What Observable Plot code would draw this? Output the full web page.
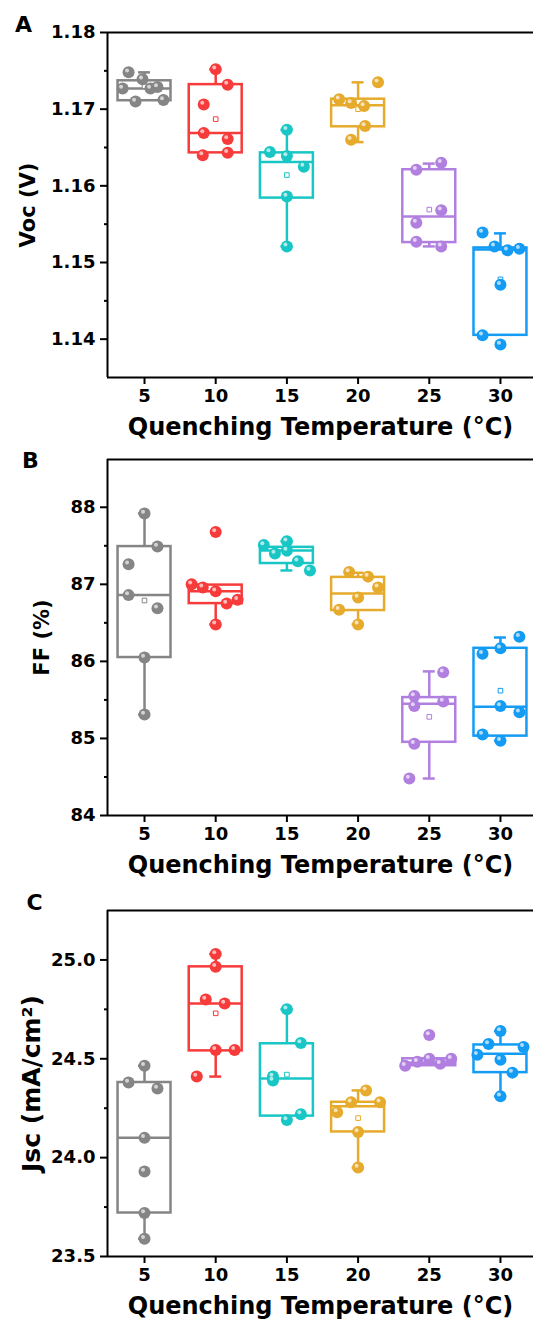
<!DOCTYPE html>
<html>
<head>
<meta charset="utf-8">
<script src="https://cdn.jsdelivr.net/npm/d3@7"></script>
<script src="https://cdn.jsdelivr.net/npm/@observablehq/plot@0.6"></script>
<style>
  html, body { margin: 0; padding: 0; background: white; }
  #chart svg { display: block; }
</style>
</head>
<body>
<div id="chart"></div>
<script>
// ---------- categories & styling keys ----------
const temps = [5, 10, 15, 20, 25, 30];
const colors = ["#858585", "#f73b3b", "#19c6c6", "#e6ab2c", "#b07fdf", "#149cf5"];
const xTitle = "Quenching Temperature (°C)";

// ---------- Panel A: Voc (V) ----------
const vocValues = [
  [1.1748, 1.1739, 1.1727, 1.1727, 1.1729, 1.1710, 1.1712],
  [1.1752, 1.1732, 1.1706, 1.1669, 1.1661, 1.1640, 1.1643],
  [1.1673, 1.1644, 1.1639, 1.1625, 1.1586, 1.1521],
  [1.1735, 1.1713, 1.1708, 1.1704, 1.1678, 1.1660],
  [1.1621, 1.1630, 1.1568, 1.1552, 1.1527, 1.1521],
  [1.1539, 1.1521, 1.1516, 1.1518, 1.1471, 1.1405, 1.1393]
];
const vocJitter = [
  [-1.12, -0.14, -1.54, 0.42, 0.91, -0.63, 1.33],
  [0, 0.84, -0.84, -0.84, 0.84, -0.91, 0.84],
  [0, -1.19, 0, 1.19, 0, 0],
  [1.40, -1.33, -0.49, 0.42, 0.49, -0.49],
  [-0.91, 0.84, 0.84, -0.91, -0.91, 0.84],
  [-1.26, -0.42, 0.49, 1.33, 0, -1.26, 0]
];
// [q1, median, q3, whiskerLow, whiskerHigh, mean]
const vocBoxes = [
  [1.1711, 1.1727, 1.1737, 1.1711, 1.1748, 1.1730],
  [1.1643, 1.1669, 1.1732, 1.1643, 1.1752, 1.1687],
  [1.1584, 1.1631, 1.1643, 1.1521, 1.1673, 1.1614],
  [1.1677, 1.1705, 1.1713, 1.1657, 1.1735, 1.1700],
  [1.1526, 1.1560, 1.1621, 1.1521, 1.1629, 1.1569],
  [1.1405, 1.1517, 1.1519, 1.1405, 1.1538, 1.1478]
];
const vocTicks = [1.14, 1.15, 1.16, 1.17, 1.18];
const vocMinor = [1.145, 1.155, 1.165, 1.175];

// ---------- Panel B: FF (%) ----------
const ffValues = [
  [87.92, 87.49, 87.26, 86.86, 86.69, 86.05, 85.31],
  [87.68, 87.00, 86.96, 86.91, 86.80, 86.75, 86.48],
  [87.51, 87.56, 87.40, 87.44, 87.30, 87.18],
  [87.16, 87.10, 86.96, 86.83, 86.67, 86.48],
  [85.86, 85.55, 85.42, 85.48, 84.93, 84.48],
  [86.32, 86.10, 86.17, 85.42, 85.34, 85.05, 84.97]
];
const ffJitter = [
  [0, 0.91, -1.12, -1.12, 0.91, 0, 0],
  [0, -1.69, -0.91, 0, 1.54, 0.77, 0],
  [-1.62, 0, -0.84, 0, 0.77, 1.62],
  [-0.63, 0.70, 1.40, 0, -1.33, 0],
  [0.98, -1.05, -1.05, 0.98, -1.05, -1.40],
  [1.33, -1.26, 0, 0, 1.33, -1.26, 0]
];
const ffBoxes = [
  [86.05, 86.86, 87.49, 85.31, 87.92, 86.79],
  [86.75, 86.91, 86.99, 86.48, 86.99, null],
  [87.27, 87.44, 87.48, 87.18, 87.56, 87.40],
  [86.66, 86.88, 87.09, 86.48, 87.15, 86.85],
  [84.95, 85.45, 85.53, 84.48, 85.87, 85.28],
  [85.03, 85.41, 86.17, 84.97, 86.31, 85.62]
];
const ffTicks = [84, 85, 86, 87, 88];
const ffMinor = [84.5, 85.5, 86.5, 87.5];

// ---------- Panel C: Jsc (mA/cm2) ----------
const jscValues = [
  [24.465, 24.38, 24.35, 24.10, 23.93, 23.72, 23.59],
  [25.03, 24.965, 24.80, 24.78, 24.545, 24.545, 24.41],
  [24.75, 24.58, 24.41, 24.39, 24.19, 24.22],
  [24.34, 24.28, 24.28, 24.23, 24.13, 23.95],
  [24.62, 24.465, 24.485, 24.50, 24.475, 24.50],
  [24.64, 24.575, 24.56, 24.52, 24.495, 24.43, 24.31]
];
const jscJitter = [
  [0, -1.12, 0.91, 0, 0, 0, 0],
  [0, 0, -0.70, 0.63, 0, 1.33, -1.33],
  [0, 0.98, -0.98, -0.98, 0, 0.98],
  [0.56, -0.49, 1.54, -1.47, 0, 0],
  [0, -1.69, -0.84, 0, 0.77, 1.54],
  [0, -0.84, 1.62, -1.62, 0, 0.84, 0]
];
const jscBoxes = [
  [23.72, 24.10, 24.38, 23.59, 24.465, null],
  [24.54, 24.78, 24.965, 24.41, 25.03, 24.73],
  [24.21, 24.40, 24.576, 24.21, 24.75, 24.42],
  [24.13, 24.26, 24.28, 23.95, 24.34, 24.20],
  [24.465, 24.48, 24.50, 24.465, 24.50, null],
  [24.43, 24.525, 24.57, 24.31, 24.64, null]
];
const jscTicks = [23.5, 24.0, 24.5, 25.0];
const jscMinor = [23.75, 24.25, 24.75];

// ---------- drawing ----------
const X_DOMAIN = [2.4, 32.32];
const BOX_HW = 1.86;   // half box width in °C units
const CAP_HW = 0.42;   // half whisker-cap width

function panel(cfg) {
  const pts = cfg.values.flatMap((arr, i) => arr.map((v, j) => ({
    x: temps[i] + cfg.jitter[i][j], y: v, c: colors[i]
  })));
  const boxes = cfg.boxes.map((s, i) => ({
    t: temps[i], q1: s[0], med: s[1], q3: s[2], lo: s[3], hi: s[4], mean: s[5], c: colors[i]
  }));
  const [y0, y1] = cfg.domain;
  const lw = 2.5;
  return Plot.plot({
    width: 533,
    height: cfg.marginTop + cfg.innerH + cfg.marginBottom,
    marginLeft: 107,
    marginRight: 0,
    marginTop: cfg.marginTop,
    marginBottom: cfg.marginBottom,
    x: { domain: X_DOMAIN },
    y: { domain: cfg.domain },
    color: { type: "identity" },
    style: { fontFamily: "DejaVu Sans", fontWeight: "bold", color: "black", background: "white", overflow: "visible" },
    marks: [
      // boxes
      Plot.rect(boxes, { x1: d => d.t - BOX_HW, x2: d => d.t + BOX_HW, y1: "q1", y2: "q3", fill: "none", stroke: "c", strokeWidth: lw }),
      Plot.ruleY(boxes, { y: "med", x1: d => d.t - BOX_HW, x2: d => d.t + BOX_HW, stroke: "c", strokeWidth: lw }),
      Plot.ruleX(boxes.filter(d => d.hi > d.q3), { x: "t", y1: "q3", y2: "hi", stroke: "c", strokeWidth: lw }),
      Plot.ruleX(boxes.filter(d => d.lo < d.q1), { x: "t", y1: "lo", y2: "q1", stroke: "c", strokeWidth: lw }),
      Plot.ruleY(boxes.filter(d => d.hi > d.q3), { y: "hi", x1: d => d.t - CAP_HW, x2: d => d.t + CAP_HW, stroke: "c", strokeWidth: lw }),
      Plot.ruleY(boxes.filter(d => d.lo < d.q1), { y: "lo", x1: d => d.t - CAP_HW, x2: d => d.t + CAP_HW, stroke: "c", strokeWidth: lw }),
      Plot.dot(boxes.filter(d => d.mean != null), { x: "t", y: "mean", symbol: "square", r: 2.6, fill: "white", stroke: "c", strokeWidth: 1 }),
      // data points (shaded spheres)
      Plot.dot(pts, { x: "x", y: "y", r: 6, fill: "c" }),
      Plot.dot(pts, { x: "x", y: "y", r: 2, fill: "white", fillOpacity: 0.65, dx: -1.5, dy: -1.8 }),
      // frame
      Plot.ruleX([X_DOMAIN[0]], { stroke: "black", strokeWidth: 2 }),
      Plot.ruleY([y0], { stroke: "black", strokeWidth: 2 }),
      Plot.ruleY([y1], { stroke: "black", strokeWidth: 2 }),
      // axes
      Plot.axisX({ ticks: temps, tickSize: 7, tickPadding: 5, fontSize: 18, fontWeight: "bold", label: null, tickFormat: d => String(d), strokeWidth: 2 }),
      Plot.axisY({ ticks: cfg.ticks, tickSize: 7, tickPadding: 5, fontSize: 18, fontWeight: "bold", label: null, tickFormat: cfg.fmt, strokeWidth: 2 }),
      Plot.axisY({ ticks: cfg.minor, tickSize: 3, tickPadding: 0, label: null, tickFormat: () => "", strokeWidth: 2 }),
      // titles
      Plot.text([xTitle], { frameAnchor: "bottom", dy: 50, fontSize: 24, fontWeight: "bold", fill: "black", textAnchor: "middle", lineAnchor: "middle" }),
      Plot.text([cfg.yLabel], { frameAnchor: "left", dx: cfg.yLabelDx, rotate: -90, fontSize: cfg.yLabelSize, fontWeight: "bold", fill: "black", textAnchor: "middle", lineAnchor: "middle" }),
      Plot.text([cfg.letter], { frameAnchor: "top-left", dx: cfg.letterDx, dy: cfg.letterDy, fontSize: 22, fontWeight: "bold", fill: "black", textAnchor: "middle", lineAnchor: "middle" })
    ]
  });
}

const chart = document.getElementById("chart");
chart.appendChild(panel({
  values: vocValues, jitter: vocJitter, boxes: vocBoxes,
  domain: [1.135, 1.18], ticks: vocTicks, minor: vocMinor, fmt: d3.format(".2f"),
  yLabel: "Voc (V)", yLabelDx: -79, yLabelSize: 21,
  letter: "A", letterDx: -84, letterDy: -8,
  marginTop: 32, innerH: 345, marginBottom: 60
}));
chart.appendChild(panel({
  values: ffValues, jitter: ffJitter, boxes: ffBoxes,
  domain: [84, 88.62], ticks: ffTicks, minor: ffMinor, fmt: d3.format("d"),
  yLabel: "FF (%)", yLabelDx: -65, yLabelSize: 21,
  letter: "B", letterDx: -77, letterDy: 1,
  marginTop: 22, innerH: 356, marginBottom: 60
}));
chart.appendChild(panel({
  values: jscValues, jitter: jscJitter, boxes: jscBoxes,
  domain: [23.5, 25.25], ticks: jscTicks, minor: jscMinor, fmt: d3.format(".1f"),
  yLabel: "Jsc (mA/cm²)", yLabelDx: -76, yLabelSize: 25,
  letter: "C", letterDx: -73, letterDy: -8,
  marginTop: 35, innerH: 346, marginBottom: 67
}));
</script>
</body>
</html>
